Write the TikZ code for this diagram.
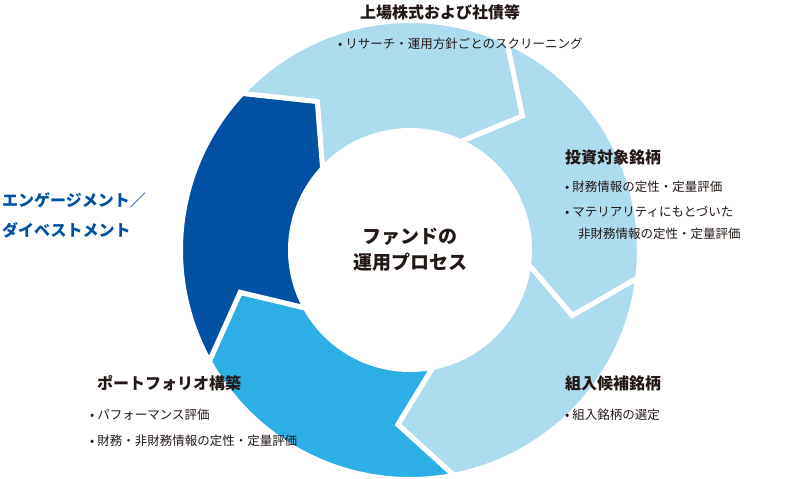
\documentclass[tikz,border=0pt]{standalone}
\usepackage{fontspec}
\setmainfont{Noto Sans CJK JP}
\definecolor{lb}{HTML}{ADDCEF}
\definecolor{mb}{HTML}{2DAFE5}
\definecolor{db}{HTML}{0050A4}
\definecolor{tx}{HTML}{231815}
\tikzset{
  seg/.style={draw=white,line width=5pt,line join=miter},
  ttl/.style={anchor=west,inner sep=0,font=\bfseries\fontsize{16}{18}\selectfont,text=tx},
  itm/.style={anchor=west,inner sep=0,font=\fontsize{12.5}{14}\selectfont,text=tx},
  ctr/.style={inner sep=0,font=\bfseries\fontsize{19}{22}\selectfont,text=tx,align=center},
}
\begin{document}
\begin{tikzpicture}[x=1pt,y=1pt]
\useasboundingbox (0,0) rectangle (785,479);
\begin{scope}[shift={(410,229)}]
\def\R{229.5}\def\r{119.5}\def\M{175}
\foreach \a/\b/\c in {137/65/lb,65/-7/lb,-7/-79/lb,-79/-151/mb,-151/-223/db}{
  \path[seg,fill=\c] (\a:\R) arc[start angle=\a,end angle=\b,radius=\R]
    -- ({\b-15}:\M) -- (\b:\r) arc[start angle=\b,end angle=\a,radius=\r]
    -- ({\a-15}:\M) -- cycle;
}
\end{scope}
\node[ctr] (c) at (410,229) {ファンドの\\[4pt]運用プロセス};
\node[ttl,anchor=center] (t1) at (440,467) {上場株式および社債等};
\node[itm] (t1a) at (338,435) {• リサーチ・運用方針ごとのスクリーニング};
\node[ttl] (t2) at (565,322) {投資対象銘柄};
\node[itm] (t2a) at (565,292) {• 財務情報の定性・定量評価};
\node[itm] (t2b) at (565,267) {• マテリアリティにもとづいた};
\node[itm] (t2c) at (578,245) {非財務情報の定性・定量評価};
\node[ttl] (t3) at (565,96) {組入候補銘柄};
\node[itm] (t3a) at (565,64) {• 組入銘柄の選定};
\node[ttl] (t4) at (97,96) {ポートフォリオ構築};
\node[itm] (t4a) at (90,64) {• パフォーマンス評価};
\node[itm] (t4b) at (90,38) {• 財務・非財務情報の定性・定量評価};
\node[ttl,text=db] (t5) at (2,279) {エンゲージメント／};
\node[ttl,text=db] (t5b) at (2,249) {ダイベストメント};
\end{tikzpicture}
\end{document}
